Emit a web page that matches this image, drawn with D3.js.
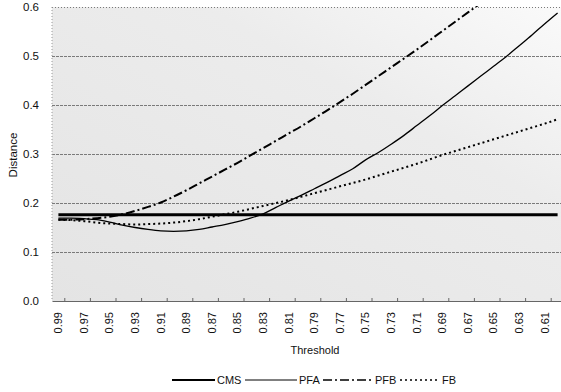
<!DOCTYPE html>
<html>
<head>
<meta charset="utf-8">
<script src="https://cdn.jsdelivr.net/npm/d3@7"></script>
<style>
    body { margin: 0; background: #fff; }
    svg { display: block; font-family: 'Liberation Sans', Arial, sans-serif; }
</style>
</head>
<body>
<div id="chart"></div>
<script>
// thresholds 0.99 -> 0.60
const thresholds = ['0.99','0.98','0.97','0.96','0.95','0.94','0.93','0.92','0.91','0.90',
    '0.89','0.88','0.87','0.86','0.85','0.84','0.83','0.82','0.81','0.80',
    '0.79','0.78','0.77','0.76','0.75','0.74','0.73','0.72','0.71','0.70',
    '0.69','0.68','0.67','0.66','0.65','0.64','0.63','0.62','0.61','0.60'];

const cms = thresholds.map(() => 0.176);
const pfa = [0.169,0.169,0.168,0.166,0.161,0.155,0.150,0.146,0.143,0.142,
    0.143,0.146,0.151,0.156,0.162,0.169,0.178,0.191,0.204,0.216,
    0.229,0.242,0.256,0.270,0.288,0.303,0.320,0.338,0.358,0.378,
    0.399,0.419,0.439,0.459,0.479,0.499,0.521,0.543,0.566,0.588];
const pfb = [0.166,0.166,0.167,0.169,0.172,0.177,0.184,0.192,0.201,0.213,
    0.226,0.240,0.254,0.268,0.282,0.297,0.312,0.327,0.342,0.357,
    0.373,0.389,0.406,0.423,0.441,0.459,0.477,0.495,0.513,0.532,
    0.551,0.570,0.589,0.608];
const fb = [0.166,0.165,0.163,0.160,0.158,0.157,0.156,0.157,0.158,0.160,
    0.163,0.167,0.172,0.177,0.182,0.188,0.194,0.200,0.206,0.213,
    0.220,0.227,0.234,0.241,0.248,0.256,0.264,0.272,0.280,0.289,
    0.298,0.306,0.314,0.322,0.330,0.338,0.346,0.354,0.362,0.371];
const yTicks = [0, 0.1, 0.2, 0.3, 0.4, 0.5, 0.6];

const series = [
    { name: 'CMS', values: cms, width: 3, dash: null },
    { name: 'PFA', values: pfa, width: 1.3, dash: null },
    { name: 'PFB', values: pfb, width: 2, dash: '9,3,2,3' },
    { name: 'FB', values: fb, width: 2, dash: '2,3' }
];

const W = 561, H = 392;
const plot = { left: 52, right: 564, top: 7, bottom: 301 };

const svg = d3.select('#chart').append('svg')
    .attr('width', W)
    .attr('height', H);

const x = d3.scaleBand()
    .domain(thresholds)
    .range([plot.left, plot.right])
    .paddingInner(0).paddingOuter(0);
const cx = d => x(d) + x.bandwidth() / 2;

const y = d3.scaleLinear()
    .domain([0, 0.6])
    .range([plot.bottom, plot.top]);

// background shading (scanned stipple look)
const grad = svg.append('defs').append('linearGradient')
    .attr('id', 'bg').attr('x1', 0).attr('x2', 1).attr('y1', 1).attr('y2', 0);
grad.append('stop').attr('offset', '0%').attr('stop-color', '#e4e4e4');
grad.append('stop').attr('offset', '65%').attr('stop-color', '#ececec');
grad.append('stop').attr('offset', '100%').attr('stop-color', '#fafafa');

svg.select('defs').append('clipPath').attr('id', 'clip')
    .append('rect')
    .attr('x', plot.left).attr('y', plot.top - 1)
    .attr('width', plot.right - plot.left)
    .attr('height', plot.bottom - plot.top + 1);

svg.append('rect')
    .attr('x', plot.left).attr('y', plot.top)
    .attr('width', plot.right - plot.left)
    .attr('height', plot.bottom - plot.top)
    .attr('fill', 'url(#bg)');

// gridlines
svg.append('g')
    .attr('transform', `translate(${plot.left},0)`)
    .call(d3.axisLeft(y).tickValues(yTicks.slice(1)).tickSize(-(plot.right - plot.left)).tickFormat(''))
    .call(g => g.select('.domain').remove())
    .selectAll('line')
    .attr('stroke', '#7a7a7a')
    .attr('stroke-width', 1)
    .attr('stroke-dasharray', d => d === 0.6 ? '1,2' : '3,1');

// left axis line
svg.append('line')
    .attr('x1', plot.left).attr('x2', plot.left)
    .attr('y1', plot.top).attr('y2', plot.bottom)
    .attr('stroke', '#999').attr('stroke-dasharray', '1,2');

// y labels
svg.append('g')
    .selectAll('text')
    .data(yTicks)
    .enter()
    .append('text')
    .attr('x', 39)
    .attr('y', d => y(d) + 4)
    .attr('text-anchor', 'end')
    .style('font-size', '11.5px')
    .style('fill', '#111')
    .text(d => d.toFixed(1));

// x axis
const xAxis = svg.append('g')
    .attr('transform', `translate(0,${plot.bottom})`)
    .call(d3.axisBottom(x).tickValues(thresholds.filter((d, i) => i % 2 === 0)).tickSize(0).tickPadding(0));
xAxis.select('.domain').attr('stroke', '#666').attr('stroke-width', 1.2);
xAxis.selectAll('text')
    .attr('transform', 'rotate(-90)')
    .attr('x', -11)
    .attr('y', 0)
    .attr('dy', '0.35em')
    .style('text-anchor', 'end')
    .style('font-size', '11px')
    .style('font-family', "'Liberation Sans', Arial, sans-serif")
    .style('fill', '#111');

// small ticks on the x axis
svg.append('g')
    .selectAll('line')
    .data(thresholds.filter((d, i) => i % 2 === 1))
    .enter()
    .append('line')
    .attr('x1', d => x(d)).attr('x2', d => x(d))
    .attr('y1', plot.bottom).attr('y2', plot.bottom - 3)
    .attr('stroke', '#666');

// lines
const line = d3.line()
    .x((d, i) => cx(thresholds[i]))
    .y(d => y(d))
    .curve(d3.curveMonotoneX);

svg.append('g')
    .attr('clip-path', 'url(#clip)')
    .selectAll('path')
    .data(series)
    .enter()
    .append('path')
    .attr('d', d => line(d.values))
    .attr('fill', 'none')
    .attr('stroke', '#000')
    .attr('stroke-width', d => d.width)
    .attr('stroke-dasharray', d => d.dash);

// axis titles
svg.append('text')
    .attr('transform', `translate(17,155) rotate(-90)`)
    .attr('text-anchor', 'middle')
    .style('font-size', '11.5px')
    .style('fill', '#111')
    .text('Distance');

svg.append('text')
    .attr('x', 315)
    .attr('y', 354)
    .attr('text-anchor', 'middle')
    .style('font-size', '11px')
    .style('fill', '#111')
    .text('Threshold');

// legend
const legendItems = [
    { s: series[0], x0: 172, x1: 215 },
    { s: series[1], x0: 245, x1: 297 },
    { s: series[2], x0: 323, x1: 373 },
    { s: series[3], x0: 400, x1: 440 }
];
const legend = svg.append('g');
legendItems.forEach(d => {
    legend.append('line')
        .attr('x1', d.x0).attr('x2', d.x1)
        .attr('y1', 380).attr('y2', 380)
        .attr('stroke', '#000')
        .attr('stroke-width', d.s.name === 'CMS' ? 2 : (d.s.name === 'PFA' ? 1 : 1.3))
        .attr('stroke-dasharray', d.s.dash);
    legend.append('text')
        .attr('x', d.x1 + 2)
        .attr('y', 384)
        .style('font-size', '11px')
        .style('fill', '#111')
        .text(d.s.name);
});
</script>
</body>
</html>
